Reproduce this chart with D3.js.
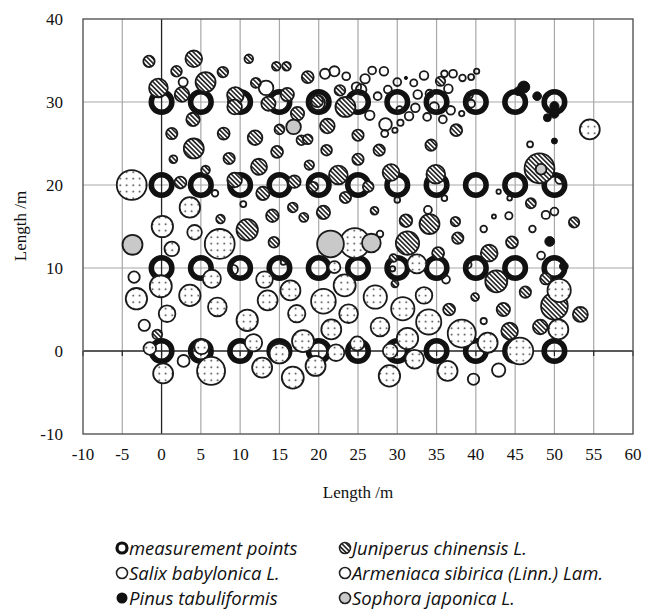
<!DOCTYPE html>
<html>
<head>
<meta charset="utf-8">
<script src="https://cdn.jsdelivr.net/npm/d3@7"></script>
<style>
  body { margin: 0; background: #fff; }
  svg { display: block; }
  .tick-label { font-family: "Liberation Serif", "Times New Roman", serif; font-size: 17px; fill: #111; }
  .axis-title { font-family: "Liberation Serif", "Times New Roman", serif; font-size: 17px; fill: #111; }
  .legend-text { font-family: "Open Sans", sans-serif; font-style: italic; font-size: 18.5px; fill: #111; }
</style>
</head>
<body>
<svg id="chart" width="649" height="613"></svg>
<script>
// measurement grid
var measureX = [0, 5, 10, 15, 20, 25, 30, 35, 40, 45, 50];
var measureY = [0, 10, 20, 30];

// trees: [x (m), y (m), crown radius (m)]
var juniperus = [
  [-1.6, 34.9, 0.72], [4.1, 35.2, 1.06], [1.9, 33.7, 0.68], [7.8, 33.6, 0.68],
  [5.6, 32.4, 1.27], [-0.4, 31.7, 1.19], [2.6, 30.9, 0.93], [9.4, 30.8, 1.06],
  [9.3, 29.4, 0.93], [13.6, 29.8, 0.9], [16.0, 30.9, 0.85], [17.3, 28.6, 0.85],
  [19.8, 30.1, 0.75], [23.4, 29.4, 1.27], [18.6, 33.0, 0.76], [22.7, 31.4, 0.68],
  [12.0, 32.3, 0.64], [11.1, 35.2, 0.55], [14.6, 34.3, 0.55], [15.9, 34.3, 0.55],
  [35.5, 32.5, 0.6],
  [4.0, 27.9, 0.85], [1.3, 26.2, 0.72], [4.1, 24.4, 1.27], [1.5, 23.1, 0.5],
  [7.9, 26.2, 0.76], [8.6, 23.2, 0.72], [11.9, 25.7, 0.93], [12.4, 22.2, 1.02],
  [14.7, 24.0, 0.76], [15.0, 26.7, 0.62], [17.8, 25.4, 0.62], [18.6, 25.5, 0.62],
  [21.0, 24.2, 0.68], [21.1, 27.1, 0.93], [18.8, 22.4, 0.6], [25.0, 26.0, 0.72],
  [25.0, 23.1, 0.72], [27.7, 24.2, 0.72], [34.3, 24.8, 0.72], [37.5, 26.6, 0.76],
  [5.6, 21.8, 0.55], [2.4, 20.3, 0.76], [9.3, 20.6, 0.93], [12.9, 19.0, 0.85],
  [16.9, 20.4, 0.8], [19.3, 19.8, 0.62], [22.5, 21.2, 1.19], [23.4, 18.5, 0.72],
  [26.3, 19.8, 0.68], [29.2, 21.5, 1.06], [34.9, 21.3, 1.19], [48.1, 22.0, 1.9],
  [14.1, 16.3, 0.8], [16.7, 17.3, 0.62], [18.1, 16.1, 0.58], [20.6, 16.7, 0.85],
  [7.5, 15.9, 0.55], [27.1, 16.9, 0.5], [31.1, 15.7, 0.8], [34.1, 15.3, 1.27],
  [37.4, 15.6, 0.6], [47.0, 17.8, 0.64], [52.5, 15.5, 0.66], [10.9, 14.6, 1.36],
  [14.3, 13.1, 0.68], [31.3, 13.0, 1.48], [37.7, 13.6, 0.72], [44.6, 13.1, 0.76],
  [41.7, 11.8, 1.06], [35.2, 11.8, 0.76], [29.5, 11.2, 0.5], [29.7, 8.1, 0.45],
  [42.6, 8.4, 1.4], [48.9, 8.7, 0.72], [46.3, 7.1, 0.72], [39.9, 6.5, 0.5],
  [36.6, 5.0, 0.76], [43.5, 5.0, 0.85], [50.0, 5.4, 1.7], [53.3, 4.4, 0.95],
  [48.2, 2.9, 0.93], [44.3, 2.4, 1.06], [-0.55, 2.0, 0.62]
];

var salix = [
  [-3.8, 20.0, 1.9], [3.6, 17.3, 1.3], [0.1, 15.0, 1.36], [4.2, 14.3, 0.93],
  [7.4, 12.9, 1.9], [1.3, 12.3, 0.93], [24.6, 13.0, 1.9], [32.5, 10.5, 1.2],
  [22.0, 10.1, 0.76], [-0.1, 7.8, 1.4], [-3.2, 6.3, 1.36], [0.7, 4.5, 1.06],
  [-1.5, 0.3, 0.8], [3.6, 6.7, 1.36], [6.4, 8.7, 1.15], [7.1, 5.3, 1.19],
  [13.1, 8.6, 1.06], [16.4, 7.3, 1.27], [13.5, 6.1, 1.27], [10.9, 3.7, 1.36],
  [17.2, 4.5, 1.1], [20.6, 6.0, 1.57], [23.3, 7.9, 1.4], [23.8, 4.5, 1.19],
  [21.6, 2.6, 1.27], [18.0, 1.2, 1.4], [11.7, 1.0, 1.1], [5.1, 0.5, 0.93],
  [6.3, -2.4, 1.78], [0.2, -2.7, 1.27], [15.0, -0.3, 1.27], [12.8, -2.0, 1.27],
  [16.7, -3.2, 1.4], [19.6, -1.8, 1.27], [22.2, -0.2, 1.06], [24.9, 0.9, 0.9],
  [27.2, 6.5, 1.48], [33.4, 6.7, 1.06], [30.7, 5.1, 1.48], [27.8, 2.9, 1.19],
  [34.0, 3.5, 1.6], [31.3, 1.5, 1.36], [38.2, 2.1, 1.78], [41.5, 1.0, 1.27],
  [45.6, 0.0, 1.7], [29.1, 0.0, 0.93], [32.2, -1.0, 1.19], [29.0, -3.0, 1.36],
  [36.4, -2.4, 1.27], [50.6, 7.3, 1.48], [50.5, 2.6, 1.27], [54.5, 26.7, 1.27]
];

var armeniaca = [
  [2.75, 32.4, 0.58], [13.3, 31.7, 0.93], [19.8, 29.9, 1.0], [20.8, 33.4, 0.64],
  [22.0, 33.7, 0.64], [23.5, 33.1, 0.5], [24.8, 31.8, 0.6], [25.9, 32.8, 0.6],
  [26.8, 33.8, 0.5], [28.3, 33.7, 0.55], [25.4, 31.5, 0.68], [27.5, 30.7, 0.5],
  [28.8, 31.5, 0.5], [30.0, 32.4, 0.5], [32.1, 32.3, 0.45], [33.4, 33.2, 0.55],
  [36.0, 33.4, 0.42], [37.1, 33.4, 0.5], [38.3, 32.9, 0.42], [39.4, 33.0, 0.38],
  [40.1, 33.7, 0.34], [36.5, 31.6, 0.55], [32.6, 30.9, 0.55], [34.1, 31.0, 0.5],
  [34.7, 29.4, 0.6], [36.8, 29.0, 0.55], [32.3, 29.3, 0.55], [31.5, 28.3, 0.55],
  [33.8, 28.2, 0.5], [35.8, 27.9, 0.5], [38.2, 28.6, 0.34], [39.4, 29.8, 0.5],
  [39.2, 30.8, 0.42], [26.5, 28.4, 0.6], [28.5, 27.3, 0.8], [30.4, 27.5, 0.4],
  [29.7, 26.6, 0.34], [28.4, 26.2, 0.45], [30.3, 29.1, 0.42],
  [6.8, 19.0, 0.42], [10.4, 17.7, 0.38], [30.0, 18.2, 0.36], [36.0, 18.4, 0.36],
  [42.9, 19.2, 0.28], [44.3, 18.4, 0.3], [46.9, 24.9, 0.38], [50.7, 20.7, 0.6],
  [33.9, 17.0, 0.5], [42.3, 16.2, 0.26], [44.2, 16.3, 0.46], [48.9, 16.4, 0.52],
  [50.0, 16.8, 0.5], [41.0, 14.7, 0.42], [47.2, 14.7, 0.42], [27.8, 14.1, 0.42],
  [-3.5, 8.9, 0.72], [9.1, 9.8, 0.62], [15.5, 10.7, 0.34], [39.0, 10.4, 0.45],
  [36.2, 8.6, 0.5], [48.3, 11.5, 0.5], [29.4, 9.9, 0.34], [41.0, 3.6, 0.4],
  [-2.2, 3.1, 0.72], [2.8, -1.2, 0.76], [39.7, -3.4, 0.72], [42.9, -2.3, 0.85]
];

var pinus = [
  [46.1, 31.8, 0.76], [45.4, 31.3, 0.55], [47.8, 30.7, 0.55], [50.0, 29.5, 0.58],
  [50.0, 28.6, 0.58], [49.1, 28.1, 0.5], [31.1, 32.9, 0.2], [50.0, 25.3, 0.38],
  [49.4, 13.2, 0.62], [51.2, 10.2, 0.55]
];

var sophora = [
  [16.8, 27.0, 0.93], [-3.7, 12.8, 1.27], [21.5, 12.9, 1.7], [26.7, 13.0, 1.19],
  [48.3, 21.9, 0.68]
];

var xTicks = [-10, -5, 0, 5, 10, 15, 20, 25, 30, 35, 40, 45, 50, 55, 60];
var yTicks = [-10, 0, 10, 20, 30, 40];

var legendItems = [
  {label: "measurement points", kind: "ring"},
  {label: "Juniperus chinensis L.", kind: "hatch"},
  {label: "Salix babylonica L.", kind: "salix"},
  {label: "Armeniaca sibirica (Linn.) Lam.", kind: "plain"},
  {label: "Pinus tabuliformis", kind: "black"},
  {label: "Sophora japonica L.", kind: "grey"}
];

var svg = d3.select("#chart");
var x = d3.scaleLinear().domain([-10, 60]).range([83, 633]);
var y = d3.scaleLinear().domain([-10, 40]).range([434, 19]);
var rpx = function(m) { return m * (x(1) - x(0)); };

// patterns
var defs = svg.append("defs");
var hatch = defs.append("pattern").attr("id", "hatch")
  .attr("patternUnits", "userSpaceOnUse").attr("width", 3.3).attr("height", 3.3)
  .attr("patternTransform", "rotate(-45)");
hatch.append("rect").attr("width", 3.3).attr("height", 3.3).attr("fill", "#fff");
hatch.append("line").attr("x1", 0.8).attr("y1", 0).attr("x2", 0.8).attr("y2", 3.3)
  .attr("stroke", "#222").attr("stroke-width", 1.6);

var dots = defs.append("pattern").attr("id", "dots")
  .attr("patternUnits", "userSpaceOnUse").attr("width", 6.5).attr("height", 6.5);
dots.append("rect").attr("width", 6.5).attr("height", 6.5).attr("fill", "#fff");
dots.append("circle").attr("cx", 3.2).attr("cy", 3.2).attr("r", 0.85).attr("fill", "#222");

// grid
var grid = svg.append("g");
grid.selectAll("line.v").data(xTicks.filter(function(d) { return d > -10 && d < 60 && d !== 0; }))
  .enter().append("line")
  .attr("x1", function(d) { return x(d); }).attr("x2", function(d) { return x(d); })
  .attr("y1", y(40)).attr("y2", y(-10))
  .attr("stroke", "#a8a8a8").attr("stroke-width", 1.2);
grid.selectAll("line.h").data([10, 20, 30])
  .enter().append("line")
  .attr("x1", x(-10)).attr("x2", x(60))
  .attr("y1", function(d) { return y(d); }).attr("y2", function(d) { return y(d); })
  .attr("stroke", "#a8a8a8").attr("stroke-width", 1.2);

// zero axes
svg.append("line").attr("x1", x(-10)).attr("x2", x(60)).attr("y1", y(0)).attr("y2", y(0))
  .attr("stroke", "#222").attr("stroke-width", 1.3);
svg.append("line").attr("x1", x(0)).attr("x2", x(0)).attr("y1", y(40)).attr("y2", y(-10))
  .attr("stroke", "#222").attr("stroke-width", 1.3);
svg.append("g").selectAll("line").data(xTicks).enter().append("line")
  .attr("x1", function(d) { return x(d); }).attr("x2", function(d) { return x(d); })
  .attr("y1", y(0)).attr("y2", y(0) + 5)
  .attr("stroke", "#222").attr("stroke-width", 1.2);

// plot border
svg.append("rect").attr("x", x(-10)).attr("y", y(40))
  .attr("width", x(60) - x(-10)).attr("height", y(-10) - y(40))
  .attr("fill", "none").attr("stroke", "#555").attr("stroke-width", 1.4);

// measurement rings
var rings = [];
measureY.forEach(function(yy) { measureX.forEach(function(xx) { rings.push([xx, yy]); }); });
svg.append("g").selectAll("circle").data(rings).enter().append("circle")
  .attr("cx", function(d) { return x(d[0]); })
  .attr("cy", function(d) { return y(d[1]); })
  .attr("r", 10.3)
  .attr("fill", "none").attr("stroke", "#111").attr("stroke-width", 5.5);

function drawTrees(data, fill, stroke, sw) {
  svg.append("g").selectAll("circle").data(data).enter().append("circle")
    .attr("cx", function(d) { return x(d[0]); })
    .attr("cy", function(d) { return y(d[1]); })
    .attr("r", function(d) { return rpx(d[2]); })
    .attr("fill", fill).attr("stroke", stroke).attr("stroke-width", sw);
}
drawTrees(juniperus, "url(#hatch)", "#1a1a1a", 1.8);
drawTrees(salix, "url(#dots)", "#1a1a1a", 1.8);
drawTrees(armeniaca, "none", "#1a1a1a", 1.8);
drawTrees(pinus, "#111", "#111", 1);
drawTrees(sophora, "#c9c9c9", "#1a1a1a", 1.8);

// tick labels
svg.append("g").selectAll("text").data(xTicks).enter().append("text")
  .attr("class", "tick-label")
  .attr("x", function(d) { return x(d); }).attr("y", 460)
  .attr("text-anchor", "middle")
  .text(function(d) { return d; });
svg.append("g").selectAll("text").data(yTicks).enter().append("text")
  .attr("class", "tick-label")
  .attr("x", 63).attr("y", function(d) { return y(d) + 6; })
  .attr("text-anchor", "end")
  .text(function(d) { return d; });

// axis titles
svg.append("text").attr("class", "axis-title")
  .attr("x", 358).attr("y", 498).attr("text-anchor", "middle").text("Length /m");
svg.append("text").attr("class", "axis-title")
  .attr("transform", "translate(26,226) rotate(-90)")
  .attr("text-anchor", "middle").text("Length /m");

// legend (two columns, filled row by row)
var legend = svg.append("g");
legendItems.forEach(function(it, i) {
  var col = i % 2, row = Math.floor(i / 2);
  var lx = col === 0 ? 122 : 345;
  var ly = 548 + row * 25;
  var g = legend.append("g").attr("transform", "translate(" + lx + "," + ly + ")");
  if (it.kind === "ring") {
    g.append("circle").attr("r", 5).attr("fill", "none").attr("stroke", "#111").attr("stroke-width", 3.2);
  } else if (it.kind === "hatch") {
    g.append("circle").attr("r", 5.5).attr("fill", "url(#hatch)").attr("stroke", "#222").attr("stroke-width", 1.6);
  } else if (it.kind === "salix" || it.kind === "plain") {
    g.append("circle").attr("r", 5.5).attr("fill", "#fff").attr("stroke", "#222").attr("stroke-width", 1.6);
  } else if (it.kind === "black") {
    g.append("circle").attr("r", 5.5).attr("fill", "#111");
  } else {
    g.append("circle").attr("r", 5.5).attr("fill", "#c9c9c9").attr("stroke", "#222").attr("stroke-width", 1.6);
  }
  g.append("text").attr("class", "legend-text").attr("x", 7).attr("y", 6.5).text(it.label);
});
</script>
</body>
</html>
